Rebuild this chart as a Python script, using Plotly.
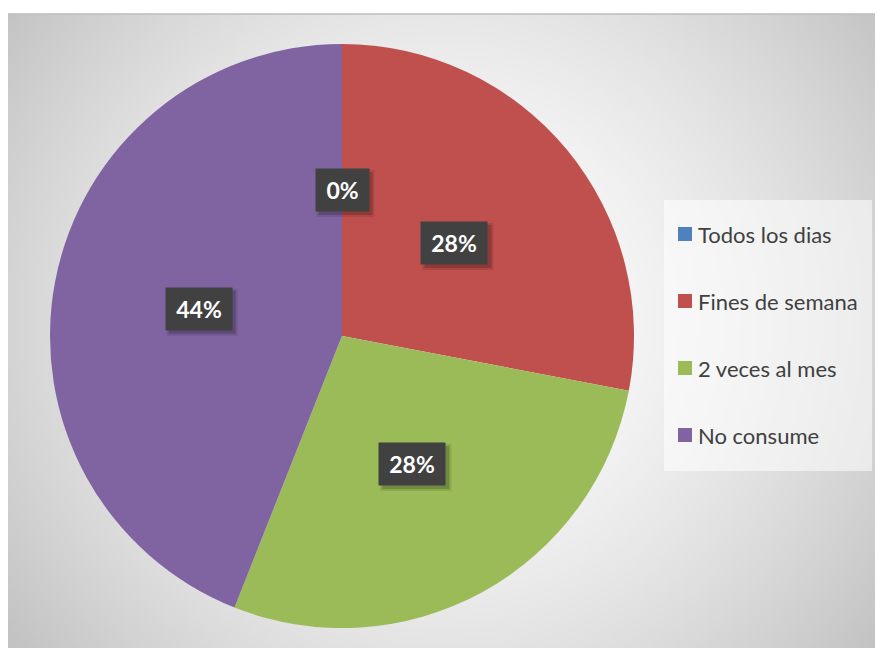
import base64, struct, zlib
import numpy as np
import plotly.graph_objects as go

# ---- data ----
categories = ["Todos los dias", "Fines de semana", "2 veces al mes", "No consume"]
values = [0, 7, 7, 11]
colors = ["#4F81BD", "#C0504D", "#9BBB59", "#8064A2"]

W, H = 883, 648
OFF = 8  # page body margin
# chart area (page px)
AX0, AY0 = 8, 14
# pie geometry (page px)
CX, CY, R = 342, 336, 292


def fx(px):
    return (px - OFF) / W


def fy(py):
    return 1 - (py - OFF) / H


def make_png(arr):
    h, w, _ = arr.shape
    raw = b"".join(b"\x00" + arr[i].tobytes() for i in range(h))

    def chunk(t, d):
        c = struct.pack(">I", len(d)) + t + d
        return c + struct.pack(">I", zlib.crc32(t + d) & 0xffffffff)

    png = b"\x89PNG\r\n\x1a\n"
    png += chunk(b"IHDR", struct.pack(">IIBBBBB", w, h, 8, 2, 0, 0, 0))
    png += chunk(b"IDAT", zlib.compress(raw, 9))
    png += chunk(b"IEND", b"")
    return "data:image/png;base64," + base64.b64encode(png).decode()


# radial gradient background
gw, gh = 292, 212
X0, X1, Y0, Y1 = AX0, W + OFF, AY0, H + OFF
xs = X0 + (np.arange(gw) + 0.5) * (X1 - X0) / gw
ys = Y0 + (np.arange(gh) + 0.5) * (Y1 - Y0) / gh
X, Y = np.meshgrid(xs, ys)
d = np.sqrt((X - 445) ** 2 + (Y - 320) ** 2) / 540.0
d = np.clip(d, 0, 1)
c = 255 - 60 * d ** 1.6
img = np.clip(np.stack([c, c, c], axis=-1), 0, 255).astype(np.uint8)
bg_uri = make_png(img)

fig = go.Figure()
fig.add_trace(go.Pie(
    labels=categories, values=values, sort=False, direction="clockwise",
    rotation=0, marker=dict(colors=colors, line=dict(width=0)),
    textinfo="none", hoverinfo="label+percent", showlegend=False,
    domain=dict(x=[fx(CX - R), fx(CX + R)], y=[fy(CY + R), fy(CY - R)]),
))

annotations = []
shapes = [
    dict(type="line", xref="paper", yref="paper", x0=fx(AX0), x1=1, y0=fy(AY0), y1=fy(AY0),
         line=dict(color="#bdbdbd", width=1.5)),
]

total = sum(values)
cum = 0
for v in values:
    mid = (cum + v / 2) / total * 2 * np.pi
    cum += v
    px = CX + 0.5 * R * np.sin(mid)
    py = CY - 0.5 * R * np.cos(mid)
    pct = f"{round(v / total * 100)}%"
    bw = 66 if len(pct) > 2 else 53
    bh = 42
    # soft shadow (two layers)
    for grow, alpha in ((2, 0.10), (0, 0.18)):
        shapes.append(dict(type="rect", xref="paper", yref="paper",
                           x0=fx(px - bw / 2 + 3 - grow), x1=fx(px + bw / 2 + 4 + grow),
                           y0=fy(py + bh / 2 + 4 + grow), y1=fy(py - bh / 2 + 3 - grow),
                           line=dict(width=0), fillcolor=f"rgba(0,0,0,{alpha})"))
    annotations.append(dict(x=fx(px), y=fy(py), text=f"<b>{pct}</b>",
                            xref="paper", yref="paper", showarrow=False,
                            width=bw - 18, height=bh - 18, borderpad=9,
                            xanchor="center", yanchor="middle",
                            font=dict(family="Lato", size=23, color="white"),
                            bgcolor="#414141"))

# custom legend
LX0, LY0, LX1, LY1 = 664, 200, 872, 471
shapes.append(dict(type="rect", xref="paper", yref="paper", x0=fx(LX0), x1=fx(LX1),
                   y0=fy(LY1), y1=fy(LY0), line=dict(width=0),
                   fillcolor="rgba(255,255,255,0.55)", layer="below"))
for i, (lab, col) in enumerate(zip(categories, colors)):
    yc = 234 + i * 67
    shapes.append(dict(type="rect", xref="paper", yref="paper",
                       x0=fx(678), x1=fx(692), y0=fy(yc + 7), y1=fy(yc - 7),
                       line=dict(width=0), fillcolor=col))
    annotations.append(dict(xref="paper", yref="paper", x=fx(696), y=fy(yc),
                            xanchor="left", yanchor="middle", showarrow=False, text=lab,
                            font=dict(family="Lato", size=22, color="#404040")))

fig.update_layout(
    width=W, height=H, margin=dict(l=0, r=0, t=0, b=0),
    paper_bgcolor="white", plot_bgcolor="white",
    images=[dict(source=bg_uri, xref="paper", yref="paper", x=fx(X0), y=fy(Y0),
                 sizex=(X1 - X0) / W, sizey=(Y1 - Y0) / H, xanchor="left", yanchor="top",
                 sizing="stretch", layer="below")],
    shapes=shapes, annotations=annotations, showlegend=False,
)

fig.write_html("out.html")
